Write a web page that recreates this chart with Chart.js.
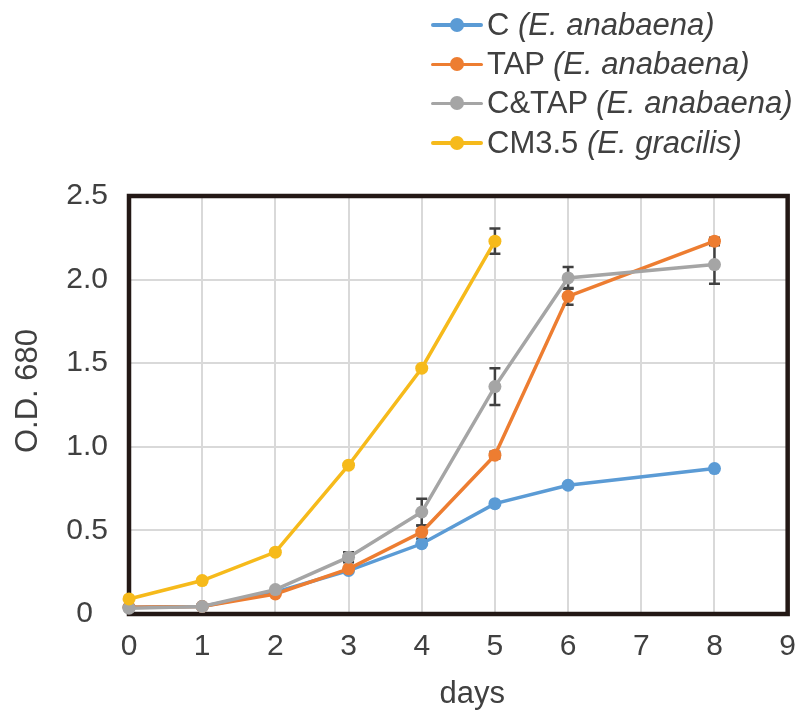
<!DOCTYPE html>
<html>
<head>
<meta charset="utf-8">
<script src="https://cdn.jsdelivr.net/npm/chart.js@4.4.0/dist/chart.umd.min.js"></script>
<style>
  html, body { margin:0; padding:0; background:#fff; }
  #wrap { position:relative; width:811px; height:713px; }
  #legend { position:absolute; left:431px; top:5px; font-family:"Liberation Sans", Arial, sans-serif; font-size:31px; color:#404040; }
  .row { display:flex; align-items:center; height:39.4px; white-space:nowrap; }
  .sym { position:relative; width:52px; height:14px; margin-right:4px; }
  .sym .ln { position:absolute; left:0; right:0; top:5.5px; height:3.5px; border-radius:2px; }
  .sym .dt { position:absolute; left:19px; top:0; width:14px; height:14px; border-radius:50%; }
  i { font-style:italic; }
</style>
</head>
<body>
<div id="wrap">
  <canvas id="c" width="811" height="713"></canvas>
  <div id="legend"></div>
</div>
<script>
// ---- data ----
const daysA = [0, 1, 2, 3, 4, 5, 6, 8];
const daysG = [0, 1, 2, 3, 4, 5];
const valC    = [0.04, 0.045, 0.13, 0.26, 0.42, 0.66, 0.77, 0.87];
const valTAP  = [0.04, 0.045, 0.12, 0.27, 0.49, 0.95, 1.90, 2.23];
const valCTAP = [0.035, 0.045, 0.146, 0.34, 0.61, 1.36, 2.01, 2.09];
const valCM   = [0.09, 0.20, 0.37, 0.89, 1.47, 2.23];
const errC    = [0, 0, 0, 0, 0, 0, 0, 0];
const errTAP  = [0, 0, 0, 0.01, 0.04, 0.02, 0.05, 0.02];
const errCTAP = [0, 0, 0, 0.03, 0.08, 0.11, 0.065, 0.115];
const errCM   = [0, 0, 0, 0, 0, 0.075];
const seriesNames = ['C', 'TAP', 'C&TAP', 'CM3.5'];
const speciesNames = ['E. anabaena', 'E. anabaena', 'E. anabaena', 'E. gracilis'];
const colors = ['#5B9BD5', '#ED7D31', '#A5A5A5', '#F6BA1B'];
const xTicks = [0, 1, 2, 3, 4, 5, 6, 7, 8, 9];
const yTicks = [0, 0.5, 1.0, 1.5, 2.0, 2.5];
const xTitle = 'days';
const yTitle = 'O.D. 680';

const toPts = (xs, ys) => xs.map((x, i) => ({x: x, y: ys[i]}));
const seriesX = [daysA, daysA, daysA, daysG];
const seriesY = [valC, valTAP, valCTAP, valCM];
const seriesE = [errC, errTAP, errCTAP, errCM];
const orders = [3, 2, 1, 0];

const datasets = seriesNames.map((n, k) => ({
  label: n + ' (' + speciesNames[k] + ')',
  data: toPts(seriesX[k], seriesY[k]),
  errors: seriesE[k],
  borderColor: colors[k],
  backgroundColor: colors[k],
  pointBackgroundColor: colors[k],
  pointBorderColor: colors[k],
  borderWidth: 3.5,
  pointRadius: 6.5,
  pointBorderWidth: 0,
  tension: 0,
  clip: false,
  order: orders[k]
}));

// legend (HTML, real text)
const lg = document.getElementById('legend');
seriesNames.forEach((n, k) => {
  const r = document.createElement('div');
  r.className = 'row';
  r.innerHTML = '<div class="sym"><div class="ln" style="background:' + colors[k] + '"></div><div class="dt" style="background:' + colors[k] + '"></div></div>' +
    '<span>' + n.replace('&', '&amp;') + ' <i>(' + speciesNames[k] + ')</i></span>';
  lg.appendChild(r);
});

const framePlugin = {
  id: 'frameAndErrors',
  beforeDatasetsDraw(chart) {
    const {ctx, chartArea: a, scales} = chart;
    ctx.save();
    ctx.strokeStyle = '#231815';
    ctx.lineWidth = 4.5;
    ctx.strokeRect(a.left, a.top, a.right - a.left, a.bottom - a.top);
    // error bars
    ctx.strokeStyle = '#404040';
    ctx.lineWidth = 2.5;
    chart.data.datasets.forEach(ds => {
      ds.data.forEach((p, i) => {
        const e = ds.errors[i];
        if (!e) return;
        const x = scales.x.getPixelForValue(p.x);
        const y1 = scales.y.getPixelForValue(p.y + e);
        const y2 = scales.y.getPixelForValue(p.y - e);
        ctx.beginPath();
        ctx.moveTo(x, y1); ctx.lineTo(x, y2);
        ctx.moveTo(x - 5.5, y1); ctx.lineTo(x + 5.5, y1);
        ctx.moveTo(x - 5.5, y2); ctx.lineTo(x + 5.5, y2);
        ctx.stroke();
      });
    });
    ctx.restore();
  }
};

const fam = '"Liberation Sans", Arial, sans-serif';
const tickFont = {family: fam, size: 30};
const titleFont = {family: fam, size: 31};
new Chart(document.getElementById('c'), {
  type: 'line',
  data: {datasets},
  plugins: [framePlugin],
  options: {
    responsive: false,
    animation: false,
    events: [],
    layout: {padding: {top: 196, right: 15, left: 0, bottom: 0}},
    plugins: {legend: {display: false}, tooltip: {enabled: false}},
    scales: {
      x: {
        type: 'linear', min: 0, max: 9,
        afterBuildTicks: s => { s.ticks = xTicks.map(v => ({value: v})); },
        afterFit: s => { s.height = 99; },
        grid: {color: '#D9D9D9', lineWidth: 2, drawTicks: false},
        border: {display: false},
        ticks: {font: tickFont, color: '#404040', padding: 15, maxRotation: 0},
        title: {display: true, text: '\u2002\u2009\u2009' + xTitle, font: titleFont, color: '#404040', padding: {top: 0, bottom: 0}}
      },
      y: {
        type: 'linear', min: 0, max: 2.5,
        afterBuildTicks: s => { s.ticks = yTicks.map(v => ({value: v})); },
        afterFit: s => { s.width = 129; },
        grid: {color: '#D9D9D9', lineWidth: 2, drawTicks: false},
        border: {display: false},
        ticks: {font: tickFont, color: '#404040', padding: 21, callback: v => v === 0 ? '0\u2002' : v.toFixed(1)},
        title: {display: true, text: '\u2002\u2009\u2009' + yTitle, font: titleFont, color: '#404040', padding: {top: 10, bottom: 0}}
      }
    }
  }
});
</script>
</body>
</html>
